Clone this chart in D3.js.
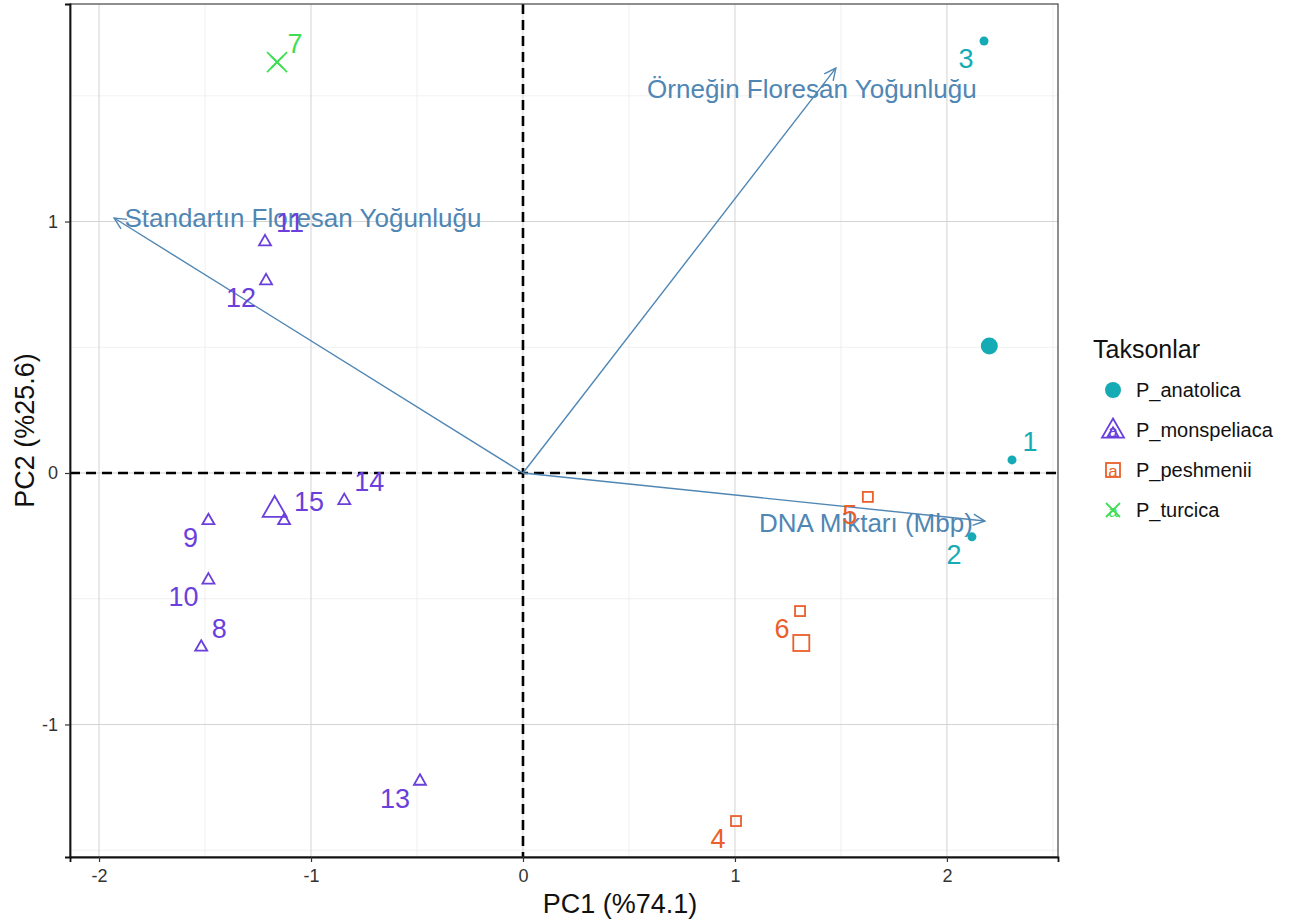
<!DOCTYPE html>
<html>
<head>
<meta charset="utf-8">
<script src="https://cdn.jsdelivr.net/npm/d3@7"></script>
<style>
  body { margin: 0; background: #fff; }
  text { font-family: "Liberation Sans", Arial, sans-serif; }
</style>
</head>
<body>
<div id="chart"></div>
<script>
// individuals (PCA scores)
var ids    = ["1","2","3","4","5","6","7","8","9","10","11","12","13","14","15"];
var groups = ["P_anatolica","P_anatolica","P_anatolica",
              "P_peshmenii","P_peshmenii","P_peshmenii",
              "P_turcica",
              "P_monspeliaca","P_monspeliaca","P_monspeliaca","P_monspeliaca",
              "P_monspeliaca","P_monspeliaca","P_monspeliaca","P_monspeliaca"];
var pc1 = [2.307, 2.118, 2.175, 1.005, 1.627, 1.307, -1.160, -1.518, -1.484, -1.484, -1.217, -1.212, -0.486, -0.843, -1.127];
var pc2 = [0.052, -0.254, 1.718, -1.384, -0.095, -0.549, 1.634, -0.690, -0.187, -0.423, 0.922, 0.767, -1.223, -0.107, -0.187];
// side of the repelled label: upper-right or lower-left
var labelSide = ["ur","ll","ll","ll","ll","ll","ur","ur","ll","ll","ur","ll","ll","ur","ur"];

// variables (loadings)
var varNames = ["Örneğin Floresan Yoğunluğu", "Standartın Floresan Yoğunluğu", "DNA Miktarı (Mbp)"];
var varPC1 = [1.476, -1.929, 2.179];
var varPC2 = [1.610, 1.014, -0.191];
var varLabelPC1 = [1.363, -1.038, 1.618];
var varLabelPC2 = [1.527, 1.014, -0.199];

var taxa = ["P_anatolica", "P_monspeliaca", "P_peshmenii", "P_turcica"];
var taxaColors = ["#15abb5", "#6a3fdc", "#ea5f2a", "#40de55"];
var taxaShapes = ["circle", "triangle", "square", "cross"];

var xTicks = [-2, -1, 0, 1, 2];
var yTicks = [-1, 0, 1];

var W = 1303, H = 922;
var panel = {left: 70, right: 1058, top: 4, bottom: 857};

var svg = d3.select("#chart").append("svg")
  .attr("width", W).attr("height", H);

var x = d3.scaleLinear().domain([-2.137, 2.524]).range([panel.left, panel.right]);
var y = d3.scaleLinear().domain([-1.527, 1.865]).range([panel.bottom, panel.top]);

var color = d3.scaleOrdinal().domain(taxa).range(taxaColors);
var shape = d3.scaleOrdinal().domain(taxa).range(taxaShapes);

// grid
var minorX = d3.range(-2, 2.6, 0.5).filter(function(v) { return v % 1 !== 0; });
var minorY = d3.range(-1.5, 1.9, 0.5).filter(function(v) { return v % 1 !== 0; });
var grid = svg.append("g");
grid.selectAll(".mx").data(minorX).enter().append("line")
  .attr("x1", d => x(d)).attr("x2", d => x(d))
  .attr("y1", panel.top).attr("y2", panel.bottom)
  .attr("stroke", "#ececec").attr("stroke-width", 0.8);
grid.selectAll(".my").data(minorY).enter().append("line")
  .attr("y1", d => y(d)).attr("y2", d => y(d))
  .attr("x1", panel.left).attr("x2", panel.right)
  .attr("stroke", "#ececec").attr("stroke-width", 0.8);
grid.selectAll(".gx").data(xTicks).enter().append("line")
  .attr("x1", d => x(d)).attr("x2", d => x(d))
  .attr("y1", panel.top).attr("y2", panel.bottom)
  .attr("stroke", "#d3d3d3").attr("stroke-width", 1);
grid.selectAll(".gy").data(yTicks).enter().append("line")
  .attr("y1", d => y(d)).attr("y2", d => y(d))
  .attr("x1", panel.left).attr("x2", panel.right)
  .attr("stroke", "#d3d3d3").attr("stroke-width", 1);

// dashed zero lines
svg.append("line")
  .attr("x1", x(0)).attr("x2", x(0)).attr("y1", panel.top).attr("y2", panel.bottom)
  .attr("stroke", "#000").attr("stroke-width", 2.6).attr("stroke-dasharray", "10,6");
svg.append("line")
  .attr("y1", y(0)).attr("y2", y(0)).attr("x1", panel.left).attr("x2", panel.right)
  .attr("stroke", "#000").attr("stroke-width", 2.6).attr("stroke-dasharray", "10,6");

// panel border
svg.append("rect")
  .attr("x", panel.left).attr("y", panel.top)
  .attr("width", panel.right - panel.left).attr("height", panel.bottom - panel.top)
  .attr("fill", "none").attr("stroke", "#444").attr("stroke-width", 1.2);

// axes
var xAxis = svg.append("g")
  .attr("transform", "translate(0," + panel.bottom + ")")
  .call(d3.axisBottom(x).tickValues(xTicks).tickSize(5).tickPadding(7).tickFormat(d3.format("d")));
var yAxis = svg.append("g")
  .attr("transform", "translate(" + panel.left + ",0)")
  .call(d3.axisLeft(y).tickValues(yTicks).tickSize(5).tickPadding(7).tickFormat(d3.format("d")));
[xAxis, yAxis].forEach(function(a) {
  a.select(".domain").attr("stroke", "#111").attr("stroke-width", 1.8);
  a.selectAll(".tick line").attr("stroke", "#333").attr("stroke-width", 1.2);
  a.selectAll(".tick text").attr("font-size", 18).attr("fill", "#333")
    .attr("font-family", "'Liberation Sans', Arial, sans-serif")
    .text(function(d) { return d < 0 ? "-" + Math.abs(d) : d; });
});

svg.append("text").attr("x", 620).attr("y", 913)
  .attr("text-anchor", "middle").attr("font-size", 27).attr("fill", "#111")
  .text("PC1 (%74.1)");
svg.append("text")
  .attr("transform", "translate(34," + ((panel.top + panel.bottom) / 2) + ") rotate(-90)")
  .attr("text-anchor", "middle").attr("font-size", 27).attr("fill", "#111")
  .text("PC2 (%25.6)");

// variable arrows
var steel = "#4f86b4";
var arrows = svg.append("g");
varNames.forEach(function(name, i) {
  var x0 = x(0), y0 = y(0), x1 = x(varPC1[i]), y1 = y(varPC2[i]);
  arrows.append("line").attr("x1", x0).attr("y1", y0).attr("x2", x1).attr("y2", y1)
    .attr("stroke", steel).attr("stroke-width", 1.4);
  var ang = Math.atan2(y1 - y0, x1 - x0), L = 13, a = Math.PI / 7;
  var head = [[x1 - L * Math.cos(ang - a), y1 - L * Math.sin(ang - a)], [x1, y1],
              [x1 - L * Math.cos(ang + a), y1 - L * Math.sin(ang + a)]];
  arrows.append("path").attr("d", d3.line()(head))
    .attr("fill", "none").attr("stroke", steel).attr("stroke-width", 1.4);
  arrows.append("text")
    .attr("x", x(varLabelPC1[i])).attr("y", y(varLabelPC2[i]))
    .attr("text-anchor", "middle").attr("dominant-baseline", "central")
    .attr("font-size", 26).attr("fill", steel)
    .text(name);
});

// symbol helper
function drawShape(g, s, cx, cy, size, col) {
  if (s === "circle") {
    g.append("circle").attr("cx", cx).attr("cy", cy).attr("r", size / 2).attr("fill", col);
  } else if (s === "triangle") {
    var h = size * 0.87;
    g.append("path")
      .attr("d", "M" + cx + "," + (cy - h * 0.6) + "L" + (cx + size / 2) + "," + (cy + h * 0.4) +
                 "L" + (cx - size / 2) + "," + (cy + h * 0.4) + "Z")
      .attr("fill", "none").attr("stroke", col).attr("stroke-width", 1.8);
  } else if (s === "square") {
    g.append("rect").attr("x", cx - size / 2).attr("y", cy - size / 2)
      .attr("width", size).attr("height", size)
      .attr("fill", "none").attr("stroke", col).attr("stroke-width", 1.8);
  } else {
    var r = size / 2;
    g.append("path")
      .attr("d", "M" + (cx - r) + "," + (cy - r) + "L" + (cx + r) + "," + (cy + r) +
                 "M" + (cx - r) + "," + (cy + r) + "L" + (cx + r) + "," + (cy - r))
      .attr("stroke", col).attr("stroke-width", 1.8);
  }
}
var smallSize = {circle: 9, triangle: 12, square: 10, cross: 12};
var bigSize = {circle: 17, triangle: 24, square: 16, cross: 20};

// group means (larger symbols)
var means = svg.append("g");
taxa.forEach(function(t) {
  var idx = d3.range(ids.length).filter(function(i) { return groups[i] === t; });
  var mx = d3.mean(idx, i => pc1[i]), my = d3.mean(idx, i => pc2[i]);
  drawShape(means, shape(t), x(mx), y(my), bigSize[shape(t)], color(t));
});

// individuals
var pts = svg.append("g");
ids.forEach(function(id, i) {
  var t = groups[i];
  drawShape(pts, shape(t), x(pc1[i]), y(pc2[i]), smallSize[shape(t)], color(t));
  var sgn = labelSide[i] === "ur" ? 1 : -1;
  pts.append("text")
    .attr("x", x(pc1[i]) + sgn * (11 + 7 * id.length))
    .attr("y", y(pc2[i]) - sgn * 18)
    .attr("text-anchor", "middle").attr("dominant-baseline", "central")
    .attr("font-size", 27).attr("fill", color(t))
    .text(id);
});

// legend
var leg = svg.append("g").attr("transform", "translate(1093,0)");
leg.append("text").attr("x", 0).attr("y", 358).attr("font-size", 25).attr("fill", "#111").text("Taksonlar");
taxa.forEach(function(t, i) {
  var cy = 390 + i * 40, cx = 20;
  var s = shape(t);
  if (s === "triangle") {
    drawShape(leg, s, cx, cy, 22, color(t));
    drawShape(leg, s, cx, cy + 3, 11, color(t));
  } else {
    drawShape(leg, s, cx, cy, s === "circle" ? 16 : 14, color(t));
  }
  leg.append("text").attr("x", cx).attr("y", cy + 1)
    .attr("text-anchor", "middle").attr("dominant-baseline", "central")
    .attr("font-size", 17).attr("fill", color(t)).text("a");
  leg.append("text").attr("x", 43).attr("y", cy)
    .attr("dominant-baseline", "central").attr("font-size", 20).attr("fill", "#111").text(t);
});
</script>
</body>
</html>
